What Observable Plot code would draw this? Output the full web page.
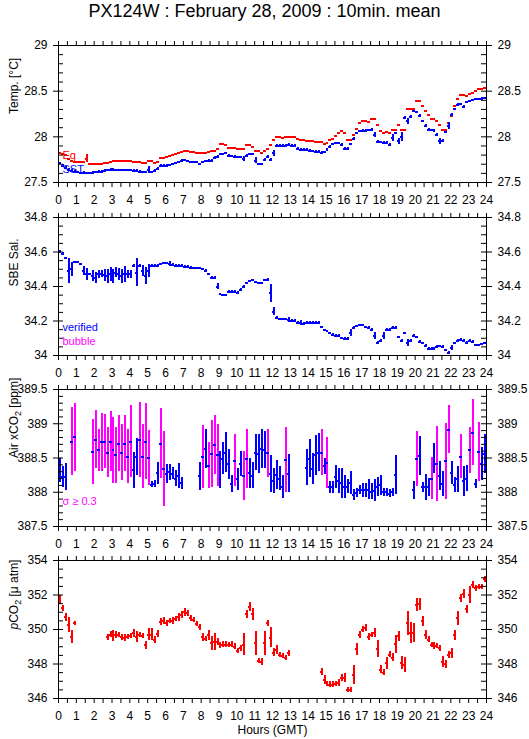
<!DOCTYPE html>
<html><head><meta charset="utf-8">
<script src="https://cdn.jsdelivr.net/npm/d3@7"></script>
<script src="https://cdn.jsdelivr.net/npm/@observablehq/plot@0.6"></script>
<style>
body{margin:0;background:#fff;font-family:"Liberation Sans",Arial,sans-serif;}
#title{height:35px;width:529px;text-align:center;font-size:18px;line-height:22px;color:#000;}
svg{display:block}
</style></head><body>
<div id="title">PX124W : February 28, 2009 : 10min. mean</div>
<div id="charts"></div>
<script>
// ---------- DATA (10-min means, index i -> hour (i+0.5)/6) ----------
const hourTicks = d3.range(0, 24.001, 0.5);

// Panel 1: temperature
const tempEq = [
  27.82,27.81,27.80,27.76,27.73,27.72,
  27.72,27.72,27.72,27.76,27.70,27.70,
  27.70,27.70,27.70,27.71,27.71,27.72,
  27.73,27.73,27.73,27.73,27.73,27.73,
  27.73,27.72,27.72,27.72,27.71,27.71,
  27.74,27.73,27.71,27.72,27.77,27.77,
  27.78,27.79,27.80,27.81,27.82,27.83,
  27.85,27.85,27.83,27.83,27.82,27.82,
  27.82,27.82,27.83,27.84,27.85,27.87,
  27.92,27.92,27.91,27.88,27.88,27.88,
  27.87,27.87,27.87,27.91,27.91,27.89,
  27.84,27.84,27.82,27.84,27.87,27.91,
  27.96,28.00,28.00,27.99,28.00,28.00,
  28.00,28.00,27.98,27.97,27.96,27.95,
  27.95,27.95,27.94,27.94,27.94,27.92,
  27.93,27.96,27.98,28.01,28.04,28.06,
  28.04,27.97,27.96,28.02,28.09,28.15,
  28.17,28.17,28.16,28.19,28.19,28.13,
  28.06,28.04,28.05,28.04,28.08,28.08,
  28.135,28.08,28.08,28.30,28.31,28.31,
  28.39,28.39,28.34,28.28,28.24,28.19,
  28.19,28.17,28.135,28.07,28.07,28.15,
  28.23,28.34,28.41,28.46,28.46,28.45,
  28.47,28.48,28.50,28.52,28.52,28.535
];
const tempEqSd = {9: 0.045};
const tempSst = [
  27.71,27.68,27.66,27.64,27.63,27.62,
  27.61,27.60,27.605,27.60,27.60,27.605,
  27.61,27.62,27.62,27.625,27.635,27.64,
  27.64,27.635,27.635,27.635,27.635,27.635,
  27.635,27.63,27.625,27.62,27.61,27.61,
  27.64,27.61,27.63,27.65,27.68,27.68,
  27.685,27.69,27.70,27.71,27.72,27.735,
  27.745,27.73,27.72,27.72,27.72,27.70,
  27.72,27.73,27.735,27.735,27.77,27.78,
  27.81,27.81,27.82,27.79,27.785,27.78,
  27.775,27.775,27.76,27.79,27.81,27.81,
  27.74,27.70,27.70,27.75,27.78,27.75,
  27.82,27.90,27.90,27.90,27.905,27.91,
  27.90,27.90,27.87,27.86,27.86,27.855,
  27.85,27.84,27.835,27.835,27.825,27.83,
  27.855,27.89,27.92,27.93,27.93,27.91,
  27.87,27.87,27.92,27.98,28.04,28.06,
  28.065,28.065,28.07,28.08,28.02,27.945,
  27.94,27.935,27.935,27.91,27.99,28.04,
  27.95,28.00,28.21,28.17,28.22,28.28,
  28.27,28.23,28.17,28.12,28.08,28.07,
  28.065,28.025,27.95,27.955,28.05,28.12,
  28.24,28.30,28.35,28.355,28.33,28.38,
  28.39,28.40,28.41,28.41,28.415,28.42
];
const tempSstSd = {30:.04, 62:.03, 66:.03, 72:.035, 106:.03, 112:.04, 114:.03, 115:.05, 117:.03, 128:.03, 129:.02, 131:.04};
const tempMajor = [27.5, 28, 28.5, 29];

// Panel 2: salinity
const salinity = [
  34.60,34.59,34.565,34.49,34.50,34.54,
  34.54,34.53,34.49,34.47,34.47,34.46,
  34.45,34.47,34.47,34.465,34.46,34.47,
  34.46,34.48,34.47,34.46,34.47,34.47,
  34.47,34.52,34.48,34.52,34.49,34.46,
  34.49,34.52,34.52,34.52,34.53,34.535,
  34.535,34.53,34.525,34.52,34.52,34.52,
  34.515,34.515,34.51,34.505,34.505,34.505,
  34.50,34.49,34.47,34.45,34.45,34.40,
  34.355,34.35,34.35,34.37,34.37,34.37,
  34.365,34.38,34.40,34.42,34.43,34.435,
  34.425,34.42,34.42,34.435,34.44,34.36,
  34.255,34.22,34.21,34.21,34.21,34.205,
  34.20,34.20,34.19,34.19,34.185,34.19,
  34.19,34.19,34.19,34.19,34.165,34.145,
  34.14,34.13,34.12,34.115,34.115,34.10,
  34.097,34.097,34.13,34.16,34.17,34.175,
  34.175,34.165,34.16,34.15,34.115,34.075,
  34.085,34.115,34.15,34.15,34.16,34.16,
  34.105,34.085,34.13,34.075,34.085,34.115,
  34.105,34.08,34.07,34.055,34.04,34.04,
  34.04,34.05,34.054,34.05,34.03,34.015,
  34.045,34.07,34.085,34.09,34.085,34.075,
  34.085,34.08,34.06,34.06,34.065,34.07
];
const salinitySd = {3:.07, 4:.04, 8:.025, 9:.035, 11:.03, 12:.03, 13:.025, 14:.02, 15:.035, 16:.04, 17:.04, 18:.04, 19:.03, 20:.035, 21:.04, 22:.045, 23:.025, 24:.025, 26:.08, 28:.03, 29:.05, 30:.04, 37:.015, 53:.02, 71:.05, 72:.025, 77:.015, 81:.015, 98:.02, 106:.02, 109:.02, 117:.02, 132:.015};
const salMajor = [34, 34.2, 34.4, 34.6, 34.8];

// Panel 3: air xCO2
const airXco2 = [
  388.32,388.22,388.22,null,388.74,388.80,
  null,null,null,null,null,388.59,
  388.77,388.61,388.73,388.74,388.58,388.74,
  388.61,388.54,388.71,388.58,388.71,388.52,
  388.74,388.32,388.52,388.76,388.52,388.74,
  388.50,388.11,388.12,388.28,388.71,388.34,
  388.27,388.29,388.27,388.20,388.24,388.13,
  null,null,null,null,null,388.23,
  388.51,388.63,388.39,388.56,388.69,388.54,
  388.33,388.49,388.58,388.41,388.12,388.46,
  388.19,388.41,388.24,388.49,388.28,388.24,
  388.58,388.56,388.63,388.62,388.57,388.27,
  388.16,388.25,388.20,388.08,388.47,388.27,
  null,null,null,null,null,388.36,
  388.49,388.34,388.54,388.58,388.58,388.38,
  388.43,388.07,388.07,388.22,388.16,388.13,
  388.08,388.08,388.13,387.96,387.99,388.03,
  388.03,388.03,388.04,388.01,388.02,388.08,
  388.10,388.00,388.00,387.98,388.00,388.25,
  null,null,null,null,null,388.03,
  388.49,388.53,388.07,388.07,388.07,388.20,
  388.49,388.41,388.24,388.12,388.45,388.91,
  388.28,388.11,388.19,388.52,388.16,388.20,
  388.61,388.87,388.12,388.59,388.41,388.56
];
const airSd = [
  .18,.15,.2,null,.5,.5,
  null,null,null,null,null,.47,
  .43,.31,.42,.40,.36,.44,
  .48,.41,.41,.41,.41,.39,
  .53,.26,.27,.55,.47,.55,
  .40,.045,.05,.16,.51,.55,
  .14,.12,.09,.12,.18,.085,
  null,null,null,null,null,.21,
  .46,.29,.34,.49,.43,.45,
  .27,.23,.29,.22,.13,.38,
  .16,.18,.36,.43,.22,.19,
  .26,.29,.28,.27,.35,.27,
  .18,.21,.18,.17,.48,.28,
  null,null,null,null,null,.26,
  .28,.22,.29,.28,.34,.12,
  .37,.09,.09,.17,.18,.22,
  .17,.10,.17,.085,.06,.065,
  .10,.10,.15,.12,.16,.14,
  .15,.055,.055,.06,.055,.29,
  null,null,null,null,null,.13,
  .40,.28,.07,.19,.13,.31,
  .22,.55,.21,.18,.56,.35,
  .17,.11,.19,.32,.22,.19,
  .33,.48,.07,.43,.24,.29
];
const sigmaLimit = 0.3;
const airMajor = [387.5, 388, 388.5, 389, 389.5];

// Panel 4: pCO2
const pco2 = [
  351.70,351.22,350.70,350.25,349.57,350.35,
  null,null,null,null,null,null,
  null,null,null,null,349.54,349.71,
  349.63,349.67,349.67,349.54,349.52,349.55,
  349.61,349.77,349.57,349.67,349.61,349.09,
  349.71,349.71,349.38,349.73,350.44,350.50,
  350.35,350.50,350.50,350.60,350.70,350.85,
  351.00,350.93,350.64,350.54,350.31,350.12,
  349.54,349.44,349.67,349.19,349.28,349.28,
  349.09,349.13,349.13,349.09,349.13,349.00,
  348.74,348.90,349.13,350.89,351.31,350.89,
  349.19,348.18,348.12,349.19,350.35,349.52,
  348.65,348.80,348.51,348.45,348.36,348.61,
  null,null,null,null,null,null,
  null,null,null,null,347.55,347.06,
  346.83,346.81,346.81,346.83,346.91,347.20,
  347.20,346.48,346.48,347.35,348.86,349.67,
  350.00,350.10,349.57,349.67,349.77,348.86,
  347.68,347.49,348.03,348.55,348.36,349.15,
  349.61,348.07,347.93,350.35,349.77,349.81,
  351.41,351.45,350.48,349.67,349.42,349.09,
  349.03,349.03,348.90,348.13,347.99,348.51,
  348.61,349.67,350.64,351.80,352.05,351.18,
  351.99,352.57,352.38,352.47,352.47,352.90
];
const pco2Sd = [
  .25,.2,.22,.43,.37,.1,
  null,null,null,null,null,null,
  null,null,null,null,.17,.19,
  .33,.21,.14,.19,.21,.15,
  .15,.23,.33,.15,.15,.24,
  .34,.34,.19,.19,.19,.22,
  .2,.15,.2,.15,.22,.2,
  .22,.19,.15,.15,.15,.15,
  .24,.15,.29,.43,.48,.19,
  .17,.15,.15,.15,.15,.17,
  .15,.15,.63,.24,.24,.34,
  .7,.15,.2,.68,.2,.58,
  .24,.26,.15,.15,.15,.19,
  null,null,null,null,null,null,
  null,null,null,null,.19,.26,
  .16,.15,.15,.15,.2,.19,
  .27,.15,.15,.56,.34,.22,
  .15,.19,.21,.15,.26,.5,
  .22,.17,.34,.16,.22,.53,
  .29,.39,.42,.68,.61,.56,
  .39,.36,.29,.25,.15,.15,
  .19,.15,.15,.32,.24,.19,
  .29,.29,.39,.22,.25,.24,
  .5,.22,.19,.15,.15,.17
];
const pco2Major = [346, 348, 350, 352, 354];

// ---------- CHART ----------
const RED = "#ff0000", BLUE = "#0000ff", MAG = "#ff00ff";
const W = 529, ML = 58, MR = 43, PW = W - ML - MR;
const HALF = 1 / 12; // half of a 10-min interval, in hours
const FONT = "'Liberation Sans', Arial, Helvetica, sans-serif";

function rows(vals, sds, base) {
  const out = [];
  vals.forEach((v, i) => {
    if (v == null) return;
    let sd = Array.isArray(sds) ? sds[i] : (sds && sds[i] != null ? sds[i] : base);
    out.push({t: (i + 0.5) / 6, v, sd: sd ?? base});
  });
  return out;
}
const seg = (data, color) => Plot.ruleY(data, {y: "v", x1: d => d.t - HALF, x2: d => d.t + HALF, stroke: color, strokeWidth: 2, shapeRendering: "crispEdges", clip: true});
const bar = (data, color) => Plot.ruleX(data.filter(d => d.sd > 0), {x: "t", y1: d => d.v - d.sd, y2: d => d.v + d.sd, stroke: color, strokeWidth: 2, shapeRendering: "crispEdges", clip: true});
const fmtNum = d => String(+d.toFixed(2));
const fmtHour = d => Number.isInteger(d) ? String(d) : "";

function panel({height, marginBottom, domain, major, minor, label, marks}) {
  return Plot.plot({
    width: W, height, marginLeft: ML, marginRight: MR, marginTop: 10, marginBottom,
    x: {domain: [0, 24]},
    y: {domain},
    style: {fontFamily: FONT, fontSize: "12px", color: "#000", background: "#fff", overflow: "visible"},
    marks: [
      ...marks,
      Plot.frame({stroke: "#000", shapeRendering: "crispEdges"}),
      Plot.axisX({anchor: "top", ticks: hourTicks, tickSize: 5, tickFormat: () => "", label: null}),
      Plot.axisX({anchor: "bottom", ticks: hourTicks, tickSize: 5, tickPadding: 8, tickFormat: fmtHour, label: null, fontSize: 12}),
      Plot.axisY({anchor: "left", ticks: major, tickSize: 5, tickPadding: 6, tickFormat: fmtNum, label: null, fontSize: 12}),
      Plot.axisY({anchor: "right", ticks: major, tickSize: 5, tickPadding: 6, tickFormat: fmtNum, label: null, fontSize: 12}),
      Plot.tickY(minor, {y: d => d, insetRight: PW - 5, stroke: "#000"}),
      Plot.tickY(minor, {y: d => d, insetLeft: PW - 5, stroke: "#000"}),
      Plot.text([label], {text: d => d, frameAnchor: "left", dx: -44, rotate: -90, fontSize: 12, fill: "#000"})
    ]
  });
}
const legend = (txt, color, dy) => Plot.text([txt], {text: d => d, frameAnchor: "bottom-left", textAnchor: "start", dx: 4, dy, fill: color, fontSize: 11});

const eqRows = rows(tempEq, tempEqSd, 0);
const sstRows = rows(tempSst, tempSstSd, 0.012);
const salRows = rows(salinity, salinitySd, 0.006);
const airRows = rows(airXco2, airSd, 0);
const pRows = rows(pco2, pco2Sd, 0.15);

const charts = document.getElementById("charts");

charts.append(panel({
  height: 172, marginBottom: 25, domain: [27.5, 29], major: tempMajor,
  minor: d3.range(275, 291).map(k => k / 10), label: "Temp. [°C]",
  marks: [bar(eqRows, RED), seg(eqRows, RED), bar(sstRows, BLUE), seg(sstRows, BLUE),
          legend("Eq", RED, -23.5), legend("SST", BLUE, -9.5)]
}));

charts.append(panel({
  height: 172, marginBottom: 24, domain: [34, 34.8], major: salMajor,
  minor: d3.range(0, 17).map(k => 34 + k * 0.05), label: "SBE Sal.",
  marks: [bar(salRows, BLUE), seg(salRows, BLUE),
          legend("verified", BLUE, -24.5), legend("bubble", MAG, -10.5)]
}));

const air3 = panel({
  height: 171, marginBottom: 24, domain: [387.5, 389.5], major: airMajor,
  minor: d3.range(0, 21).map(k => 387.5 + k * 0.1), label: "Air xCO2 [ppm]",
  marks: [bar(airRows.filter(d => d.sd < sigmaLimit), BLUE), bar(airRows.filter(d => d.sd >= sigmaLimit), MAG),
          seg(airRows, BLUE), legend("σ ≥ 0.3", MAG, -22)]
});
charts.append(air3);

const p4 = panel({
  height: 189, marginBottom: 41, domain: [346, 354], major: pco2Major,
  minor: d3.range(0, 17).map(k => 346 + k * 0.5), label: "pCO2 [μ atm]",
  marks: [bar(pRows, RED), seg(pRows, RED),
          Plot.text(["Hours (GMT)"], {text: d => d, frameAnchor: "bottom", dy: 35, fontSize: 12, fill: "#000"})]
});
charts.append(p4);

// subscripts / italics in the axis titles
function rich(svg, find, html) {
  svg.querySelectorAll("text").forEach(t => { if (t.textContent === find) t.innerHTML = html; });
}
rich(air3, "Air xCO2 [ppm]", 'Air xCO<tspan dy="3" font-size="9">2</tspan><tspan dy="-3"> [ppm]</tspan>');
rich(p4, "pCO2 [μ atm]", '<tspan font-style="italic">p</tspan>CO<tspan dy="3" font-size="9">2</tspan><tspan dy="-3"> [μ atm]</tspan>');
</script>
</body></html>
